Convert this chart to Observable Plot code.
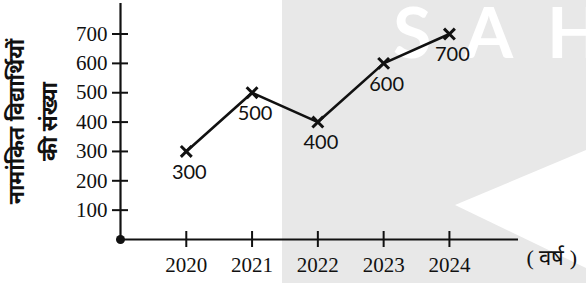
<!DOCTYPE html>
<html><head><meta charset="utf-8">
<script src="https://cdn.jsdelivr.net/npm/d3@7"></script>
<script src="https://cdn.jsdelivr.net/npm/@observablehq/plot@0.6"></script>
<style>
html,body{margin:0;padding:0;background:#fff;}
#wrap{position:relative;width:586px;height:283px;overflow:hidden;}
#bg{position:absolute;left:0;top:0;}
#chart{position:absolute;left:0;top:0;}
</style></head><body>
<div id="wrap">
<svg id="bg" width="586" height="283">
<rect x="282" y="0" width="304" height="283" fill="#e8e8e8"/>
<polygon points="455,205 586,150 586,268" fill="#ffffff"/>
<text x="393" y="58" font-family="Lato, sans-serif" font-weight="bold" font-size="70" fill="#ffffff" letter-spacing="34">SAH</text>
</svg>
<div id="chart"></div>
</div>
<script>
const years = [2020, 2021, 2022, 2023, 2024];
const students = [300, 500, 400, 600, 700];
const yTicks = [100, 200, 300, 400, 500, 600, 700];
const yLabelLines = ["नामांकित विद्यार्थियों", "की संख्या"];
const xLabel = "( वर्ष )";

const data = years.map((year, i) => ({year, value: students[i]}));
const ink = "#111";

const chart = Plot.plot({
  width: 586,
  height: 283,
  marginLeft: 120,
  marginRight: 68,
  marginTop: 3,
  marginBottom: 44,
  x: {domain: [2019, 2025.05]},
  y: {domain: [0, 804]},
  style: {background: "transparent", color: ink, overflow: "visible"},
  marks: [
    Plot.ruleY([0], {stroke: ink, strokeWidth: 2.2}),
    Plot.ruleX([2019], {stroke: ink, strokeWidth: 2.2}),
    Plot.axisY({ticks: yTicks, tickSize: 16, dx: 8, tickPadding: 5, label: null,
      tickFormat: d => String(d), fontSize: 21, fontFamily: "Liberation Serif, serif", strokeWidth: 2}),
    Plot.axisX({ticks: years, tickSize: 16, dy: -8, tickPadding: 10, label: null,
      tickFormat: d => String(d), fontSize: 21, fontFamily: "Liberation Serif, serif", strokeWidth: 2}),
    Plot.line(data, {x: "year", y: "value", stroke: ink, strokeWidth: 2.6}),
    Plot.dot(data, {x: "year", y: "value", symbol: "times", r: 5, stroke: ink, strokeWidth: 3}),
    Plot.text(data, {x: "year", y: "value", text: d => String(d.value), dy: 21, dx: 3,
      fontSize: 20, fontFamily: "Lato, sans-serif", fill: ink}),
    Plot.dot([0], {x: () => 2019, y: () => 0, r: 4.5, fill: ink}),
    Plot.text([yLabelLines[0]], {text: d => d, frameAnchor: "left", textAnchor: "middle", rotate: -90, dx: -103,
      fontSize: 21.5, fontWeight: "bold", fontFamily: "Noto Sans, sans-serif", fill: ink}),
    Plot.text([yLabelLines[1]], {text: d => d, frameAnchor: "left", textAnchor: "middle", rotate: -90, dx: -70,
      fontSize: 21.5, fontWeight: "bold", fontFamily: "Noto Sans, sans-serif", fill: ink}),
    Plot.text([xLabel], {text: d => d, frameAnchor: "bottom-right", textAnchor: "start", dx: 8, dy: 25,
      fontSize: 22, fontFamily: "Liberation Serif, serif", fill: ink})
  ]
});
document.getElementById("chart").appendChild(chart);
</script>
</body></html>
